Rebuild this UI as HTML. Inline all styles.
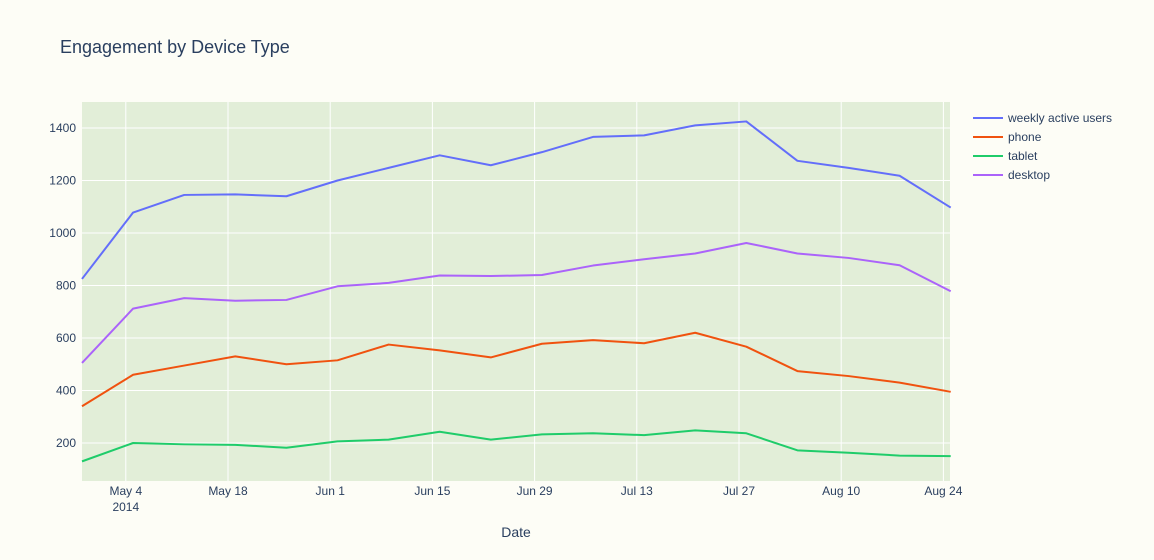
<!DOCTYPE html>
<html><head><meta charset="utf-8"><style>
body{margin:0;background:#fdfdf6;}
svg{display:block;font-family:"Liberation Sans",sans-serif;}
</style></head><body>
<svg id="chart" width="1154" height="560">
<rect width="1154" height="560" fill="#fdfdf6"/>
<text x="60" y="53" font-size="18" fill="#2a3f5f">Engagement by Device Type</text>
<rect x="82" y="102" width="868" height="379" fill="#e2eed8"/>
<g id="grid"></g><g id="series"></g><g id="axes"></g><g id="legend"></g>
<text x="516" y="537" font-size="14" fill="#2a3f5f" text-anchor="middle">Date</text>
</svg>
<script>
const weeks = [0,1,2,3,4,5,6,7,8,9,10,11,12,13,14,15,16,17];
const seriesNames = ["weekly active users","phone","tablet","desktop"];
const wau = [825,1078,1145,1147,1140,1200,1248,1296,1258,1308,1366,1372,1410,1425,1275,1248,1218,1097];
const phone = [340,460,495,530,500,515,575,553,526,578,592,580,620,567,474,455,430,395];
const tablet = [130,200,195,193,182,206,213,243,213,233,237,230,248,237,172,163,152,150];
const desktop = [505,712,752,742,745,797,810,838,836,840,876,900,922,962,922,905,877,778];
const yTicks = [200,400,600,800,1000,1200,1400];
const xTickDays = [6,20,34,48,62,76,90,104,118];
const xTickLabels = ["May 4","May 18","Jun 1","Jun 15","Jun 29","Jul 13","Jul 27","Aug 10","Aug 24"];
const colors = ["#636efa","#f0520f","#1fcc6a","#ab63fa"];

const NS="http://www.w3.org/2000/svg";
const x = d => 82 + d*7.3;
const y = v => 443 - (v-200)*0.2625;
function mk(tag, attrs, parent){const e=document.createElementNS(NS,tag);for(const k in attrs)e.setAttribute(k,attrs[k]);parent.appendChild(e);return e;}
const grid=document.getElementById('grid'), axes=document.getElementById('axes'), ser=document.getElementById('series'), leg=document.getElementById('legend');
yTicks.forEach(v=>{
  const l=mk('line',{x1:82,x2:950,y1:y(v),y2:y(v),stroke:'#fff','stroke-width':1},grid);
  
  
  const t=mk('text',{x:76,y:y(v)+4,'font-size':12,fill:'#2a3f5f','text-anchor':'end'},axes);
  t.textContent=v;
  
  
});
xTickDays.forEach((d,i)=>{
  const l=mk('line',{x1:x(d),x2:x(d),y1:102,y2:481,stroke:'#fff','stroke-width':1},grid);
  
  
  const t=mk('text',{x:x(d),y:495,'font-size':12,fill:'#2a3f5f','text-anchor':'middle'},axes);
  t.textContent=xTickLabels[i];
  
  
});
const yr=mk('text',{x:x(6),y:511,'font-size':12,fill:'#2a3f5f','text-anchor':'middle'},axes);
yr.textContent='2014';


[wau,phone,tablet,desktop].forEach((vals,si)=>{
  const p=mk('polyline',{points:vals.map((v,i)=>x(weeks[i]*7)+','+y(v)).join(' '),fill:'none',stroke:colors[si],'stroke-width':2,'stroke-linejoin':'round'},ser);
  
  
  const ly=118+si*19;
  const g=mk('g',{},leg);
  
  
  mk('line',{x1:973,x2:1003,y1:ly,y2:ly,stroke:colors[si],'stroke-width':2},g);
  const t=mk('text',{x:1008,y:ly+4,'font-size':12,fill:'#2a3f5f'},g);
  t.textContent=seriesNames[si];
});
</script>
</body></html>
